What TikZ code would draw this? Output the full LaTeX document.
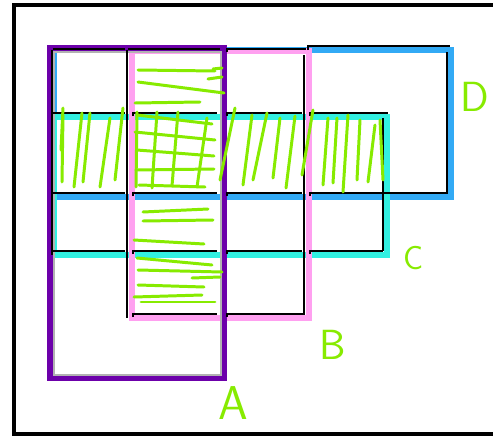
\documentclass[tikz,border=0pt]{standalone}
\usepackage{tikz}
\usetikzlibrary{positioning}

\definecolor{setA}{RGB}{108,0,170}
\definecolor{setB}{RGB}{255,160,240}
\definecolor{setC}{RGB}{50,240,225}
\definecolor{setD}{RGB}{50,170,245}
\definecolor{pen}{RGB}{135,235,0}

\begin{document}
\begin{tikzpicture}[
  x=0.02cm, y=-0.02cm,
  frame/.style={draw=black, line width=2pt},
  setline/.style={line width=2.9pt},
  cell/.style={draw=black, line width=1.3pt},
  hatch/.style={draw=pen, line width=1.7pt, line cap=round},
  letter/.style={text=pen, font=\sffamily, inner sep=0pt},
]
\useasboundingbox (0,0) rectangle (493,436);
\fill[white] (0,0) rectangle (493,436);
\draw[frame] (14,5) rectangle (520,434);

% the four sets
\draw[setline, draw=setD] (54,50) rectangle (451,197);
\draw[setline, draw=setC] (54,117) rectangle (387,255);
\draw[setline, draw=setB] (132,51) rectangle (309,318);
\draw[setline, draw=setA, line width=3.3pt] (50,48) rectangle (224,378);
\draw[gray!60, line width=0.7pt] (54,52) rectangle (221,375);

% cell edges
\foreach \y/\xr in {113/388, 193/448, 251/383}{
  \draw[cell] (53,\y) -- (125,\y);
  \draw[cell] (133,\y+3) -- (133,\y) -- (217,\y);
  \draw[cell] (227,\y+3) -- (227,\y) -- (302,\y);
  \draw[cell] (310,\y+3) -- (310,\y) -- (\xr,\y);
}
\draw[cell] (53,49) -- (125,49);
\draw[cell] (128,49) -- (220,49);
\draw[cell] (227,52) -- (227,49) -- (306,49);
\draw[cell] (308,50) -- (308,46) -- (450,46);
\draw[cell] (133,317) -- (133,314) -- (217,314);
\draw[cell] (227,317) -- (227,314) -- (305,314);
\draw[cell] (52,50) -- (52,255);
\draw[cell] (127,50) -- (127,318);
\draw[cell] (304,55) -- (304,314);
\draw[cell] (383,118) -- (383,251);
\draw[cell] (447,52) -- (447,193);

% vertical strokes across the middle row
\foreach \xa/\ya/\xb/\yb in {
    63/108/61/150, 63/115/62/182, 82/113/74/187, 90/113/83/182,
    110/118/100/187, 123/108/115/180,
    137/112/136/187, 157/112/152/188, 178/112/172/186, 207/118/197/187,
    235/108/220/180, 252/115/243/185, 267/113/253/180, 280/118/273/178,
    295/116/286/188, 313/110/302/175,
    328/118/323/185, 337/118/333/183, 348/115/343/192, 360/120/357/180,
    375/125/368/182, 380/120/383/180}
  \draw[hatch] (\xa,\ya) -- (\xb,\yb);

% horizontal strokes down the second column
\foreach \xa/\ya/\xb/\yb in {
    138/70/215/71, 213/69/222/68, 138/82/224/93, 208/79/222/77,
    135/103/200/102,
    137/115/212/124, 135/132/215/140, 137/150/214/156, 136/170/214/169,
    139/185/205/187,
    143/212/208/209, 143/221/213/220, 134/240/204/244,
    137/258/212/265, 138/270/222/272, 192/278/220/277, 138/285/204/287,
    134/297/202/295, 141/302/215/302}
  \draw[hatch] (\xa,\ya) -- (\xb,\yb);

% labels
\node[letter, font=\sffamily\fontsize{27}{27}\selectfont] (labA) at (233,403) {A};
\node[letter, font=\sffamily\fontsize{24}{24}\selectfont] (labB) at (333,345) {B};
\node[letter, font=\sffamily\fontsize{19}{19}\selectfont] (labC) at (414,258) {C};
\node[letter, font=\sffamily\fontsize{24}{24}\selectfont] (labD) at (475,97) {D};
\end{tikzpicture}
\end{document}
